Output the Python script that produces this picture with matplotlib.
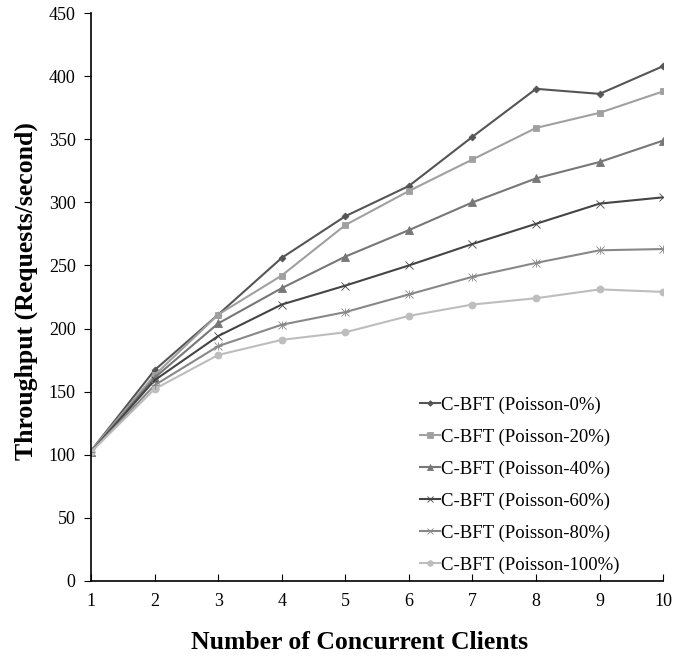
import matplotlib
matplotlib.use("Agg")
import matplotlib.pyplot as plt

clients = [1, 2, 3, 4, 5, 6, 7, 8, 9, 10]

p0 = [103, 167, 211, 256, 289, 313, 352, 390, 386, 408]
p20 = [103, 163, 211, 242, 282, 309, 334, 359, 371, 388]
p40 = [102, 161, 204, 232, 257, 278, 300, 319, 332, 349]
p60 = [102, 159, 194, 219, 234, 250, 267, 283, 299, 304]
p80 = [102, 155, 186, 203, 213, 227, 241, 252, 262, 263]
p100 = [102, 152, 179, 191, 197, 210, 219, 224, 231, 229]

labels = ["C-BFT (Poisson-0%)", "C-BFT (Poisson-20%)", "C-BFT (Poisson-40%)",
          "C-BFT (Poisson-60%)", "C-BFT (Poisson-80%)", "C-BFT (Poisson-100%)"]


def main():
    plt.rcParams["font.family"] = ["Liberation Serif", "DejaVu Serif"]
    fig = plt.figure(figsize=(6.74, 6.57), dpi=100)
    ax = fig.add_axes([0.135, 0.116, 0.849, 0.864])

    series = [p0, p20, p40, p60, p80, p100]
    colors = ["#555555", "#a0a0a0", "#777777", "#444444", "#888888", "#bdbdbd"]
    markers = ["D", "s", "^", "x", "x", "o"]
    sizes = [3.5, 5, 5.5, 6, 6, 5]
    for vals, lab, c, m, s in zip(series, labels, colors, markers, sizes):
        ax.plot(clients, vals, color=c, marker=m, markersize=s, linewidth=1.5,
                markeredgewidth=0.6, label=lab)
    # the 80% series uses a star-like mark; overlay a plus to mimic it
    ax.plot(clients, p80, color="#888888", marker="+", markersize=6,
            linestyle="none", markeredgewidth=0.6)

    ax.set_xlim(1, 10)
    ax.set_ylim(0, 450)
    ax.set_xticks(clients)
    ax.set_yticks(range(0, 451, 50))
    ax.spines["top"].set_visible(False)
    ax.spines["right"].set_visible(False)
    ax.spines["left"].set_linewidth(1.2)
    ax.spines["bottom"].set_linewidth(1.2)
    ax.tick_params(axis="x", direction="in", length=5, labelsize=13, pad=9)
    ax.tick_params(axis="y", direction="out", length=5, labelsize=13, pad=6)

    ax.set_xlabel("Number of Concurrent Clients", fontsize=18.5, fontweight="bold")
    ax.set_ylabel("Throughput (Requests/second)", fontsize=18.5, fontweight="bold")
    ax.xaxis.set_label_coords(0.47, -0.089)
    ax.yaxis.set_label_coords(-0.093, 0.51)

    ax.legend(loc="lower left", bbox_to_anchor=(0.545, -0.017), frameon=False,
              fontsize=13.5, handlelength=1.1, handletextpad=0.05,
              labelspacing=0.78, markerscale=0.8)

    fig.savefig("out.png", dpi=100)


if __name__ == "__main__":
    main()
